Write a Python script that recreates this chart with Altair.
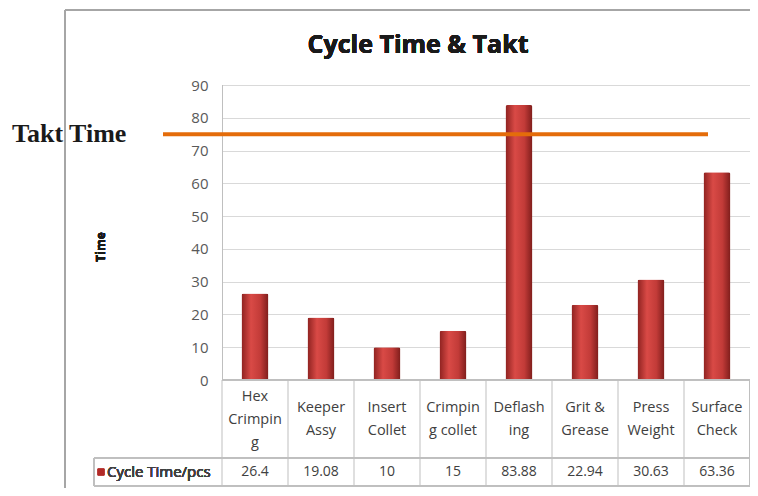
import altair as alt
import pandas as pd

categories = ["Hex Crimping", "Keeper Assy", "Insert Collet", "Crimping collet",
              "Deflashing", "Grit & Grease", "Press Weight", "Surface Check"]
cat_labels = ["Hex|Crimpin|g", "Keeper|Assy", "Insert|Collet", "Crimpin|g collet",
              "Deflash|ing", "Grit &|Grease", "Press|Weight", "Surface|Check"]
label_lines = [3, 2, 2, 2, 2, 2, 2, 2]
cycle_times = [26.4, 19.08, 10, 15, 83.88, 22.94, 30.63, 63.36]
value_labels = ["26.4", "19.08", "10", "15", "83.88", "22.94", "30.63", "63.36"]
takt_time = [75]
y_ticks = [0, 10, 20, 30, 40, 50, 60, 70, 80, 90]

df = pd.DataFrame({"cat": categories, "label": cat_labels, "nlines": label_lines,
                   "value": cycle_times, "vlabel": value_labels})
takt_df = pd.DataFrame({"takt": takt_time})

W, H = 528, 295
GRID = "#D9D9D9"
LINE = "#BFBFBF"
TXT = "#404040"
FONT = "Open Sans"

xenc = alt.X("cat:N", sort=categories,
             scale=alt.Scale(paddingInner=0, paddingOuter=0), axis=None)
yscale = alt.Scale(domain=[0, 90], nice=False)
yaxis = alt.Axis(values=y_ticks, grid=True, gridColor=GRID, domain=False,
                 ticks=False, title=None, labelColor="#595959",
                 labelFontSize=15, labelFont=FONT, labelPadding=14,
                 labelOverlap=False)

base = alt.Chart(df)

bars = base.mark_bar(
    width=27,
    color=alt.Gradient(gradient="linear", x1=0, x2=1, y1=0, y2=0,
                       stops=[alt.GradientStop(color="#8E2220", offset=0),
                              alt.GradientStop(color="#D94A46", offset=0.35),
                              alt.GradientStop(color="#C23B38", offset=0.7),
                              alt.GradientStop(color="#7E1D1B", offset=1)]),
    cornerRadiusTopLeft=2, cornerRadiusTopRight=2,
).encode(
    x=xenc,
    y=alt.Y("value:Q", scale=yscale, axis=yaxis),
)

# table lines
seps = base.mark_rule(color=LINE, strokeWidth=1).encode(
    x=alt.X("cat:N", sort=categories, bandPosition=0),
    y=alt.value(H), y2=alt.value(H + 107),
)
right_sep = base.mark_rule(color=LINE).encode(
    x=alt.value(W - 0.5), y=alt.value(H), y2=alt.value(H + 107))
left_axis = base.mark_rule(color=LINE).encode(
    x=alt.value(0.5), y=alt.value(0), y2=alt.value(H))
hline0 = base.mark_rule(color=LINE).encode(
    x=alt.value(0), x2=alt.value(W), y=alt.value(H))
hline1 = base.mark_rule(color=LINE).encode(
    x=alt.value(-128), x2=alt.value(W), y=alt.value(H + 78))
hline2 = base.mark_rule(color=LINE).encode(
    x=alt.value(-128), x2=alt.value(W), y=alt.value(H + 106))
vline_leg = base.mark_rule(color=LINE).encode(
    x=alt.value(-128), y=alt.value(H + 78), y2=alt.value(H + 106))

cat_text3 = base.transform_filter("datum.nlines == 3").mark_text(
    lineBreak="|", baseline="middle", align="center", fontSize=14.5, font=FONT,
    color=TXT, lineHeight=23).encode(
    x=alt.X("cat:N", sort=categories), y=alt.value(H + 17), text="label:N")
cat_text2 = base.transform_filter("datum.nlines == 2").mark_text(
    lineBreak="|", baseline="middle", align="center", fontSize=14.5, font=FONT,
    color=TXT, lineHeight=23).encode(
    x=alt.X("cat:N", sort=categories), y=alt.value(H + 28), text="label:N")
val_text = base.mark_text(baseline="middle", align="center", fontSize=14,
                          font=FONT, color=TXT).encode(
    x=alt.X("cat:N", sort=categories), y=alt.value(H + 92), text="vlabel:N")

legend_sq = base.mark_square(color="#B22A27", size=42, opacity=1).encode(
    x=alt.value(-121), y=alt.value(H + 92))
legend_txt = base.mark_text(align="left", baseline="middle", fontSize=15,
                            font=FONT, color=TXT).encode(
    x=alt.value(-115), y=alt.value(H + 92), text=alt.value("Cycle Time/pcs"))

takt_line = alt.Chart(takt_df).mark_rule(color="#E46C0A", strokeWidth=4).encode(
    y=alt.Y("takt:Q", scale=yscale, axis=yaxis), x=alt.value(-59), x2=alt.value(486))
takt_txt = alt.Chart(takt_df).mark_text(
    align="left", baseline="middle", fontSize=26, fontWeight="bold",
    font="Liberation Serif", color="#1A1A1A").encode(
    x=alt.value(-210), y=alt.value(49), text=alt.value("Takt Time"))

title_txt = base.mark_text(align="center", baseline="middle", fontSize=25,
                           fontWeight="bold", font=FONT,
                           color="#1A1A1A").encode(
    x=alt.value(196), y=alt.value(-40), text=alt.value("Cycle Time & Takt"))
ytitle = base.mark_text(align="center", baseline="middle", fontSize=12,
                        fontWeight="bold", font=FONT, angle=270,
                        color="#1A1A1A").encode(
    x=alt.value(-121), y=alt.value(162), text=alt.value("Time"))

frame_left = base.mark_rule(color="#A6A6A6", strokeWidth=2).encode(
    x=alt.value(-157), y=alt.value(-75), y2=alt.value(H + 120))
frame_top = base.mark_rule(color="#A6A6A6", strokeWidth=2).encode(
    x=alt.value(-157), x2=alt.value(W), y=alt.value(-75))

chart = alt.layer(
    frame_left, frame_top, bars, left_axis, hline0, seps, right_sep, hline1, hline2,
    vline_leg, cat_text3, cat_text2, val_text, legend_sq, legend_txt, takt_line,
    takt_txt, title_txt, ytitle,
).properties(
    width=W, height=H,
    padding={"left": 214, "top": 77, "right": 0, "bottom": 108},
    autosize=alt.AutoSizeParams(type="none"),
).configure_view(stroke=None)

chart.save("out.html", embed_options={"renderer": "svg", "actions": False})
